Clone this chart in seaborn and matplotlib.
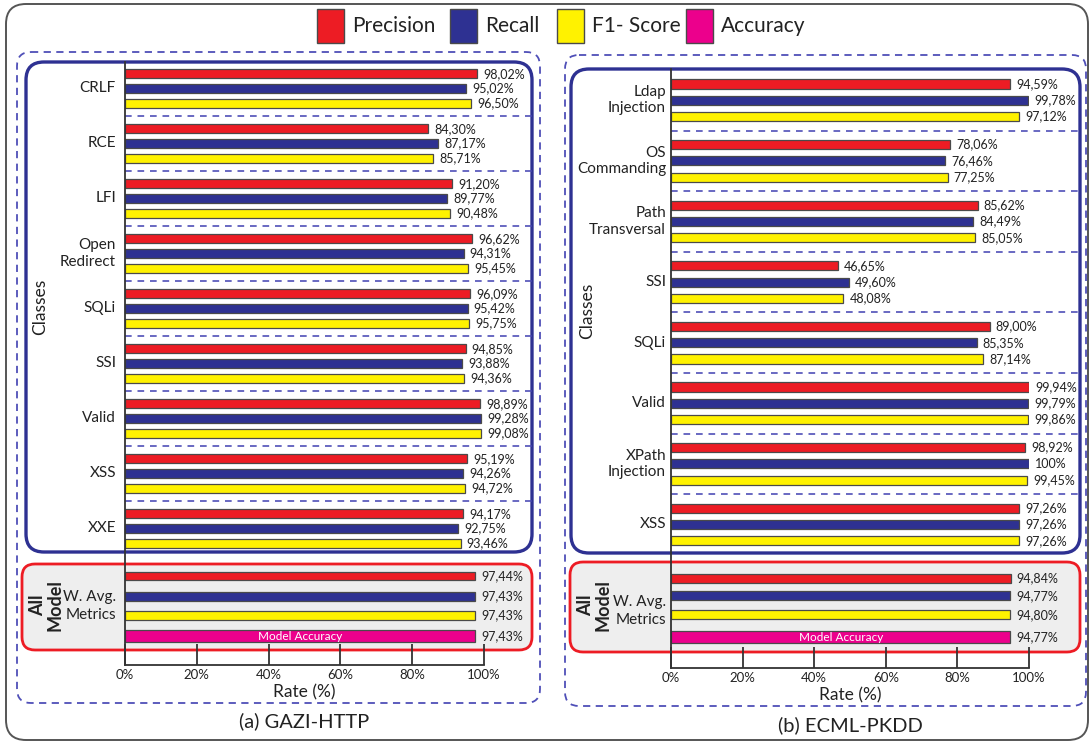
import numpy as np
import pandas as pd
import matplotlib
matplotlib.use("Agg")
import matplotlib.pyplot as plt
from matplotlib.patches import FancyBboxPatch, Rectangle
import seaborn as sns

# ---------------- data ----------------
METRICS = ["Precision", "Recall", "F1- Score"]

GAZI_CLASSES = ["CRLF", "RCE", "LFI", "Open\nRedirect", "SQLi", "SSI", "Valid", "XSS", "XXE"]
GAZI_PRECISION = [98.02, 84.30, 91.20, 96.62, 96.09, 94.85, 98.89, 95.19, 94.17]
GAZI_RECALL = [95.02, 87.17, 89.77, 94.31, 95.42, 93.88, 99.28, 94.26, 92.75]
GAZI_F1 = [96.50, 85.71, 90.48, 95.45, 95.75, 94.36, 99.08, 94.72, 93.46]
GAZI_WAVG = [97.44, 97.43, 97.43]
GAZI_ACCURACY = 97.43

ECML_CLASSES = ["Ldap\nInjection", "OS\nCommanding", "Path\nTransversal", "SSI", "SQLi",
                "Valid", "XPath\nInjection", "XSS"]
ECML_PRECISION = [94.59, 78.06, 85.62, 46.65, 89.00, 99.94, 98.92, 97.26]
ECML_RECALL = [99.78, 76.46, 84.49, 49.60, 85.35, 99.79, 100.00, 97.26]
ECML_F1 = [97.12, 77.25, 85.05, 48.08, 87.14, 99.86, 99.45, 97.26]
ECML_WAVG = [94.84, 94.77, 94.80]
ECML_ACCURACY = 94.77

X_TICKS = [0, 20, 40, 60, 80, 100]

# ---------------- style ----------------
RED = "#ED1C24"
BLUE = "#2E3192"
YELLOW = "#FFF200"
MAGENTA = "#EC008C"
PALETTE = {"Precision": RED, "Recall": BLUE, "F1- Score": YELLOW, "Accuracy": MAGENTA}
DASH_BLUE = "#4F4FB8"
TXT = "#222222"
EDGE = "#4a4a4a"

sns.set_theme(style="white")
plt.rcParams["font.family"] = ["Lato", "DejaVu Sans"]
plt.rcParams["text.color"] = TXT

W, H = 1089, 742
fig = plt.figure(figsize=(W / 100, H / 100), dpi=100)
fig.patch.set_facecolor("white")

# full-figure pixel canvas for frames, boxes and free text
deco = fig.add_axes([0, 0, 1, 1], zorder=0)
deco.set_xlim(0, W)
deco.set_ylim(H, 0)
deco.axis("off")


def rbox(x0, y0, x1, y1, r, ec, lw, fc="none", ls="-", z=1):
    p = FancyBboxPatch((x0, y0), x1 - x0, y1 - y0,
                       boxstyle=f"round,pad=0,rounding_size={r}",
                       ec=ec, fc=fc, lw=lw, ls=ls, zorder=z)
    deco.add_patch(p)


def fmt(v):
    if v >= 100:
        return "100%"
    return f"{v:.2f}".replace(".", ",") + "%"


# outer frame
rbox(6, 4, 1088, 740, 20, "#555555", 1.4)

# legend
legend_items = [("Precision", 317), ("Recall", 450), ("F1- Score", 557), ("Accuracy", 686)]
for name, lx in legend_items:
    deco.add_patch(Rectangle((lx, 9), 27, 34, fc=PALETTE[name], ec=EDGE, lw=1.0, zorder=2))
    deco.text(lx + 35, 26, name, fontsize=15, va="center", ha="left", color=TXT)


def draw_panel(classes, prec, rec, f1, wavg, acc, lay):
    # frames
    rbox(*lay["outer"], 14, DASH_BLUE, 1.3, ls=(0, (4, 3)))
    rbox(*lay["blue"], 18, BLUE, 2.4, fc="white", z=1.5)
    rbox(*lay["red"], 13, RED, 2.0, fc="#EEEEEE", z=1.5)

    x0, x1 = lay["x0"], lay["x1"]
    top, base = lay["top"], lay["base"]
    ax = fig.add_axes([x0 / W, (H - base) / H, (x1 - x0) / W, (base - top) / H], zorder=2)
    ax.patch.set_alpha(0)

    # bar slots: three bars per class, then the weighted-average block
    n = len(classes)
    rows = []
    for g in range(n):
        for k, (m, vals) in enumerate(zip(METRICS, [prec, rec, f1])):
            rows.append({"value": vals[g], "metric": m,
                         "pos": lay["first"] + g * lay["gstep"] + k * lay["bstep"]})
    for k, m in enumerate(METRICS):
        rows.append({"value": wavg[k], "metric": m, "pos": lay["avg_pos"][k]})
    df = pd.DataFrame(rows)
    df_acc = pd.DataFrame({"value": [acc], "metric": ["Accuracy"], "pos": [lay["acc_pos"]]})

    sns.barplot(data=df, x="value", y="pos", hue="metric", orient="y", native_scale=True,
                dodge=False, palette=PALETTE, width=lay["bar_w"], saturation=1,
                edgecolor=EDGE, linewidth=0.9, errorbar=None, legend=False, ax=ax)
    sns.barplot(data=df_acc, x="value", y="pos", hue="metric", orient="y", native_scale=True,
                dodge=False, palette=PALETTE, width=lay["acc_h"], saturation=1,
                edgecolor=EDGE, linewidth=0.9, errorbar=None, legend=False, ax=ax)

    ax.set_xlim(0, 100)
    ax.set_ylim(base, top)

    # value labels
    for _, r in pd.concat([df, df_acc]).iterrows():
        ax.annotate(fmt(r["value"]), (r["value"], r["pos"]), xytext=(4.5, 0),
                    textcoords="offset points", ha="left", va="center",
                    fontsize=9, color=TXT, annotation_clip=False)
    ax.text(acc / 2, lay["acc_pos"], "Model Accuracy", color="white", fontsize=8.5,
            ha="center", va="center")

    # axes styling
    for s in ["top", "right"]:
        ax.spines[s].set_visible(False)
    for s in ["left", "bottom"]:
        ax.spines[s].set_color("#333333")
        ax.spines[s].set_linewidth(1.3)
    ax.set_yticks([])
    ax.set_ylabel("")
    ax.set_xticks(X_TICKS)
    ax.set_xticklabels([f"{t}%" for t in X_TICKS], fontsize=9.5, color=TXT)
    ax.tick_params(axis="x", direction="in", length=15, width=1.3, color="#333333", pad=3,
                   bottom=True)
    ax.set_xlabel("Rate (%)", fontsize=12.5, color=TXT, labelpad=2)

    # dashed separators between class groups
    for g in range(n - 1):
        ysep = lay["first"] + g * lay["gstep"] + 2 * lay["bstep"] + \
            (lay["gstep"] - 2 * lay["bstep"]) / 2
        deco.plot([x0, lay["blue"][2]], [ysep, ysep], color=DASH_BLUE, lw=1.2,
                  ls=(0, (4, 3.5)), zorder=1.8)

    # class names
    for g, c in enumerate(classes):
        yc = lay["first"] + g * lay["gstep"] + lay["bstep"]
        deco.text(lay["lab_x"], yc, c, ha="right", va="center", multialignment="right",
                  fontsize=11, color=TXT, linespacing=1.2, zorder=3)

    bx0, by0, bx1, by1 = lay["blue"]
    deco.text(lay["classes_x"], (by0 + by1) / 2, "Classes", rotation=90, ha="center",
              va="center", fontsize=12.5, color=TXT, zorder=3)
    deco.text(lay["all_x"], lay["all_y"], "All\nModel", rotation=90, ha="center",
              va="center", fontsize=13, fontweight="bold", color=TXT, linespacing=1.0, zorder=3)
    deco.text(lay["lab_x"], lay["wavg_y"], "W. Avg.\nMetrics", ha="right", va="center",
              multialignment="right", fontsize=11, color=TXT, linespacing=1.4, zorder=3)
    deco.text((x0 + x1) / 2, lay["caption_y"], lay["caption"], ha="center", va="center",
              fontsize=14.5, color=TXT, zorder=3)
    return ax


GAZI_LAYOUT = dict(outer=(17, 52, 540, 703), blue=(26, 62, 532, 552), red=(22, 564, 532, 650),
                   x0=125, x1=484, top=62, base=665,
                   first=73.7, gstep=55.0, bstep=14.7, bar_w=0.6,
                   avg_pos=[576.0, 596.5, 615.5], acc_pos=636.0, acc_h=12.7,
                   lab_x=116, classes_x=40, all_x=46, all_y=605, wavg_y=606,
                   caption="(a) GAZI-HTTP", caption_y=721)

ECML_LAYOUT = dict(outer=(565, 55, 1086, 706), blue=(571, 69, 1080, 553), red=(570, 562, 1080, 652),
                   x0=671, x1=1029, top=69, base=668,
                   first=84.0, gstep=60.6, bstep=16.3, bar_w=0.56,
                   avg_pos=[578.3, 595.8, 614.8], acc_pos=637.2, acc_h=12.3,
                   lab_x=666, classes_x=587, all_x=594, all_y=605, wavg_y=611,
                   caption="(b) ECML-PKDD", caption_y=725)

draw_panel(GAZI_CLASSES, GAZI_PRECISION, GAZI_RECALL, GAZI_F1, GAZI_WAVG, GAZI_ACCURACY,
           GAZI_LAYOUT)
draw_panel(ECML_CLASSES, ECML_PRECISION, ECML_RECALL, ECML_F1, ECML_WAVG, ECML_ACCURACY,
           ECML_LAYOUT)

fig.savefig("out.png", dpi=100)
